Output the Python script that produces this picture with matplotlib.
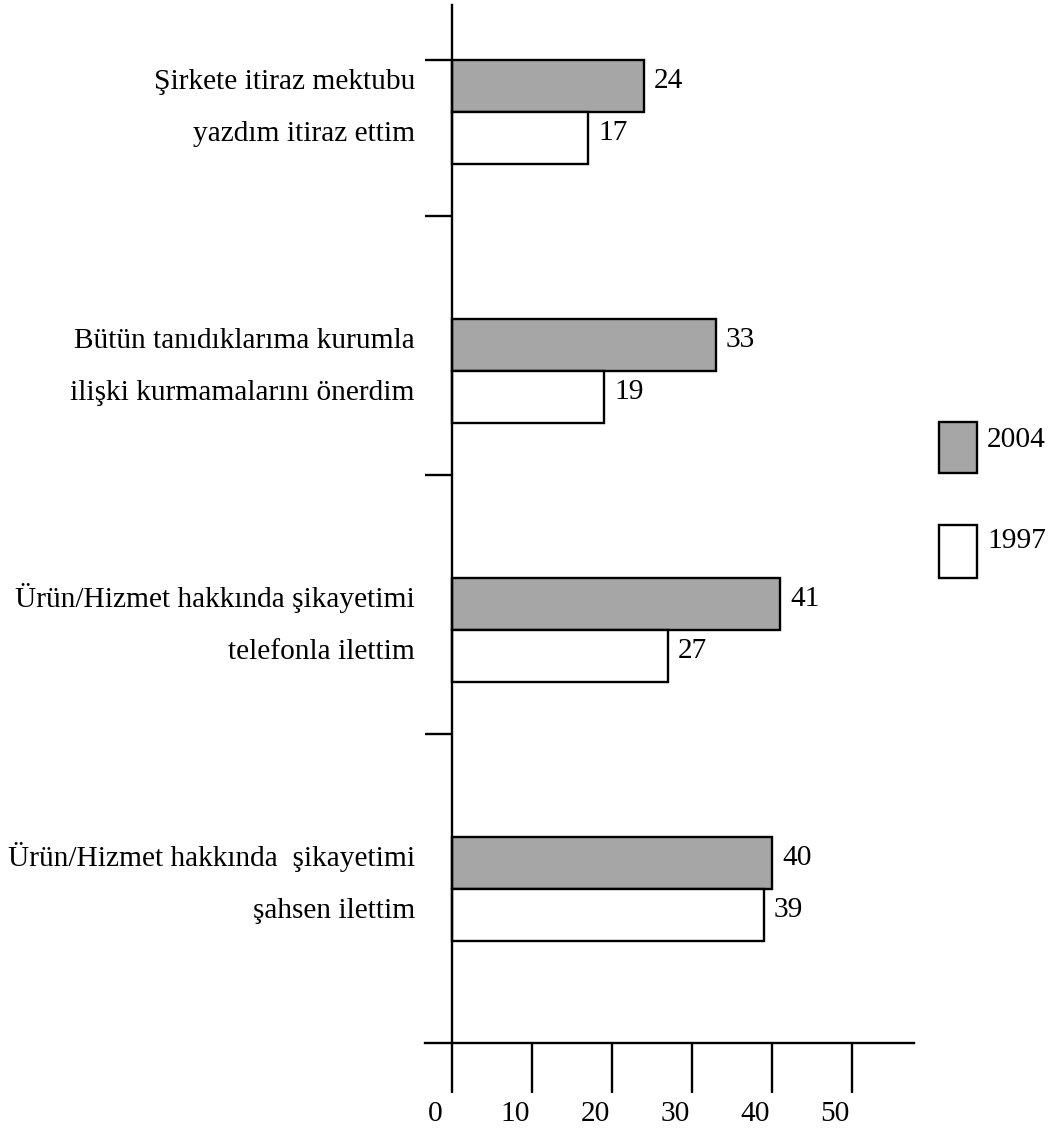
import matplotlib
matplotlib.use("Agg")
import matplotlib.pyplot as plt
from matplotlib.patches import Rectangle
from matplotlib.transforms import ScaledTranslation, blended_transform_factory
import numpy as np

# --- data -------------------------------------------------------------
categories = [
    ("Şirkete itiraz mektubu", "yazdım itiraz ettim"),
    ("Bütün tanıdıklarıma kurumla", "ilişki kurmamalarını önerdim"),
    ("Ürün/Hizmet hakkında şikayetimi", "telefonla ilettim"),
    ("Ürün/Hizmet hakkında  şikayetimi", "şahsen ilettim"),
]
values_2004 = [24, 33, 41, 40]
values_1997 = [17, 19, 27, 39]
series_labels = ["2004", "1997"]
xtick_values = [0, 10, 20, 30, 40, 50]
ytick_positions = [-0.2, 0.4, 1.4, 2.4]

# --- style ------------------------------------------------------------
plt.rcParams["font.family"] = ["Liberation Serif", "DejaVu Serif"]
FS = 21.2
LW = 1.7
GRAY = "#a6a6a6"

W, H = 1051, 1128
fig = plt.figure(figsize=(W / 100, H / 100), dpi=100)
fig.patch.set_facecolor("white")


def px(dx, dy=0):
    """Offset of dx, dy pixels (y downwards)."""
    return ScaledTranslation(dx / 100, -dy / 100, fig.dpi_scale_trans)


ax = fig.add_axes([425 / W, (H - 1043) / H, (914 - 425) / W, (1043 - 5) / H])
ax.set_xlim(-3.375, 57.75)
ax.set_ylim(3.595, -0.413)
ax.patch.set_alpha(0)

y = np.arange(len(categories))
h = 0.2
ax.barh(y - h / 2, values_2004, height=h, color=GRAY,
        edgecolor="black", linewidth=LW, label=series_labels[0], zorder=3)
ax.barh(y + h / 2, values_1997, height=h, color="white",
        edgecolor="black", linewidth=LW, label=series_labels[1], zorder=3)

# axes lines
for side in ("top", "right"):
    ax.spines[side].set_visible(False)
ax.spines["left"].set_position(("data", 0))
for side in ("left", "bottom"):
    ax.spines[side].set_linewidth(LW)
    ax.spines[side].set_zorder(4)

ax.set_yticks(ytick_positions)
ax.set_yticklabels([])
ax.tick_params(axis="y", length=19.4, width=LW, direction="out", color="black")
ax.set_xticks(xtick_values)
ax.set_xticklabels([])
ax.tick_params(axis="x", length=36, width=LW, direction="out", color="black")

# x tick labels
xlab_tr = blended_transform_factory(ax.transData, ax.transAxes)
for v in xtick_values:
    ax.text(v, 0, str(v), ha="center", va="baseline", fontsize=FS,
            transform=xlab_tr + px(-17, 78), clip_on=False)

# value labels
for yi, v in zip(y - h / 2, values_2004):
    ax.text(v, yi, str(v), ha="left", va="baseline", fontsize=FS,
            transform=ax.transData + px(10, 2), clip_on=False)
for yi, v in zip(y + h / 2, values_1997):
    ax.text(v, yi, str(v), ha="left", va="baseline", fontsize=FS,
            transform=ax.transData + px(10, 2), clip_on=False)

# category labels, one line beside each bar of the group
for yi, (line1, line2) in zip(y, categories):
    ax.text(0, yi - h / 2, line1, ha="right", va="baseline", fontsize=FS,
            transform=ax.transData + px(-37, 3), clip_on=False)
    ax.text(0, yi + h / 2, line2, ha="right", va="baseline", fontsize=FS,
            transform=ax.transData + px(-37, 3), clip_on=False)

# legend boxes at the right
def fig_rect(x0, y0, x1, y1, **kw):
    r = Rectangle((x0 / W, 1 - y1 / H), (x1 - x0) / W, (y1 - y0) / H,
                  transform=fig.transFigure, **kw)
    fig.add_artist(r)

fig_rect(939, 422, 977, 473, facecolor=GRAY, edgecolor="black", linewidth=LW)
fig.text(987 / W, 1 - 447 / H, series_labels[0], ha="left", va="baseline", fontsize=FS)
fig_rect(939, 525, 977, 578, facecolor="white", edgecolor="black", linewidth=LW)
fig.text(987 / W, 1 - 548 / H, series_labels[1], ha="left", va="baseline", fontsize=FS)

fig.savefig("out.png", dpi=100)
